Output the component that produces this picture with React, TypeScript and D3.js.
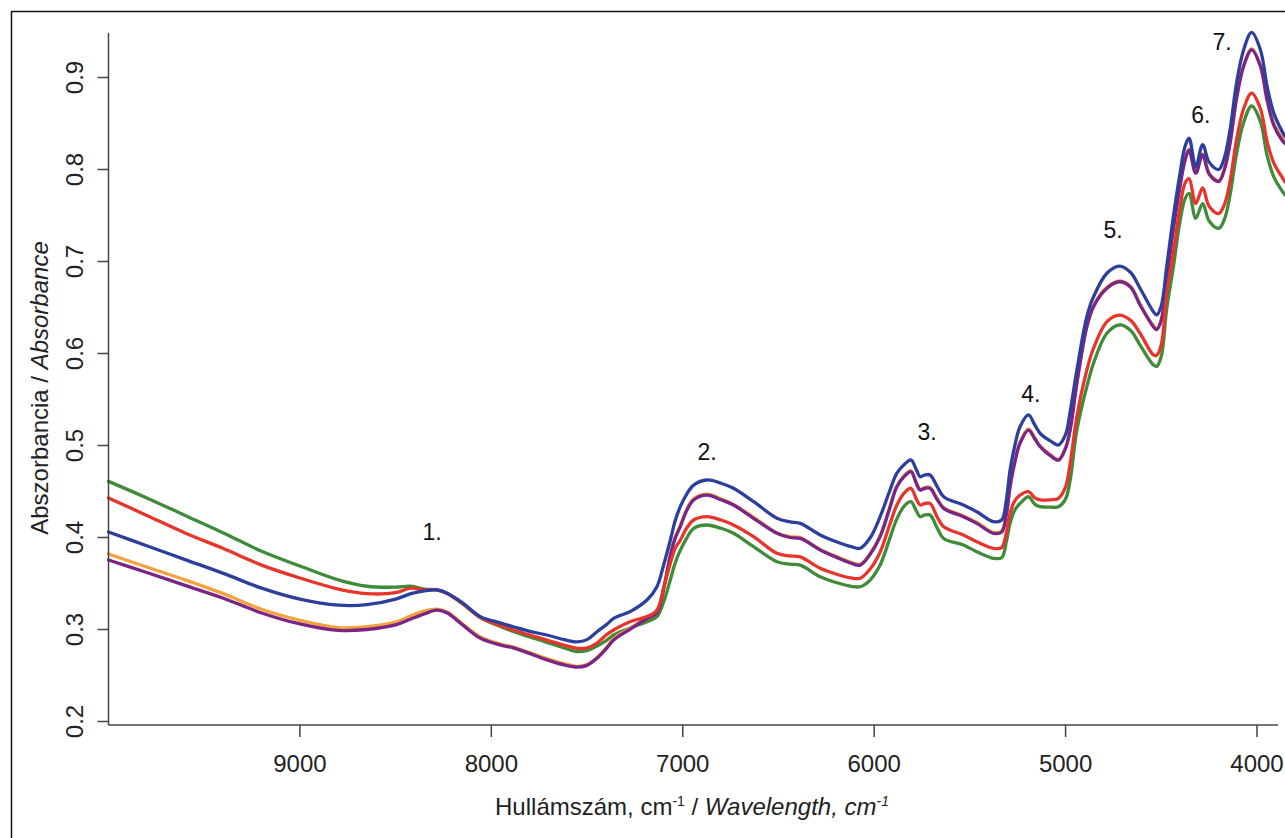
import React from "react";
import * as d3 from "d3";

const wavenumbers = [10000, 9800, 9600, 9400, 9200, 9000, 8800, 8650, 8500, 8420, 8350, 8284, 8230, 8150, 8057, 7950, 7885, 7800, 7710, 7620, 7553, 7500, 7448, 7400, 7361, 7270, 7187, 7135, 7100, 7065, 7040, 7013, 6980, 6943, 6874, 6800, 6735, 6630, 6508, 6440, 6386, 6282, 6180, 6120, 6073, 6020, 5969, 5920, 5882, 5840, 5808, 5780, 5760, 5735, 5708, 5670, 5637, 5534, 5464, 5377, 5334, 5310, 5290, 5265, 5238, 5194, 5160, 5133, 5080, 5037, 5000, 4976, 4941, 4889, 4854, 4784, 4719, 4660, 4611, 4541, 4524, 4500, 4472, 4437, 4402, 4376, 4355, 4320, 4284, 4250, 4200, 4170, 4141, 4107, 4070, 4028, 3982, 3947, 3912, 3870, 3852];

const greenSeries = [0.461, 0.443, 0.424, 0.405, 0.385, 0.369, 0.354, 0.347, 0.346, 0.347, 0.344, 0.343, 0.339, 0.328, 0.313, 0.303, 0.298, 0.292, 0.286, 0.280, 0.276, 0.277, 0.282, 0.288, 0.294, 0.302, 0.3085, 0.314, 0.330, 0.354, 0.372, 0.386, 0.399, 0.410, 0.4136, 0.410, 0.4046, 0.390, 0.3737, 0.371, 0.370, 0.3574, 0.350, 0.347, 0.3465, 0.354, 0.370, 0.398, 0.420, 0.435, 0.439, 0.429, 0.4226, 0.4245, 0.4245, 0.410, 0.399, 0.3918, 0.3845, 0.3774, 0.378, 0.395, 0.4154, 0.430, 0.437, 0.4443, 0.436, 0.4335, 0.433, 0.4335, 0.442, 0.4625, 0.5168, 0.5639, 0.5894, 0.622, 0.631, 0.625, 0.6092, 0.5875, 0.586, 0.597, 0.648, 0.694, 0.744, 0.768, 0.774, 0.747, 0.763, 0.744, 0.736, 0.746, 0.772, 0.817, 0.851, 0.869, 0.852, 0.815, 0.792, 0.777, 0.772];

const redSeries = [0.443, 0.424, 0.405, 0.388, 0.370, 0.356, 0.344, 0.339, 0.340, 0.345, 0.343, 0.343, 0.339, 0.328, 0.313, 0.304, 0.2995, 0.294, 0.2885, 0.283, 0.2796, 0.280, 0.2853, 0.294, 0.2995, 0.309, 0.314, 0.321, 0.345, 0.372, 0.388, 0.397, 0.410, 0.419, 0.4226, 0.419, 0.4136, 0.4009, 0.3828, 0.380, 0.379, 0.3665, 0.359, 0.356, 0.3557, 0.366, 0.384, 0.413, 0.435, 0.449, 0.4535, 0.442, 0.4353, 0.437, 0.437, 0.422, 0.4117, 0.4027, 0.3954, 0.3883, 0.389, 0.405, 0.4263, 0.440, 0.446, 0.4498, 0.443, 0.4408, 0.441, 0.4426, 0.455, 0.4806, 0.5313, 0.582, 0.6057, 0.6346, 0.6418, 0.636, 0.622, 0.5984, 0.598, 0.610, 0.665, 0.709, 0.7596, 0.785, 0.790, 0.763, 0.780, 0.760, 0.752, 0.762, 0.787, 0.832, 0.866, 0.883, 0.866, 0.830, 0.807, 0.792, 0.786];

const blueSeries = [0.406, 0.391, 0.376, 0.361, 0.345, 0.333, 0.3265, 0.327, 0.333, 0.339, 0.342, 0.343, 0.3395, 0.329, 0.314, 0.307, 0.303, 0.298, 0.294, 0.289, 0.2865, 0.289, 0.2976, 0.305, 0.312, 0.320, 0.332, 0.3465, 0.370, 0.397, 0.418, 0.4335, 0.447, 0.457, 0.4625, 0.459, 0.4535, 0.439, 0.421, 0.417, 0.4154, 0.4027, 0.394, 0.390, 0.3883, 0.400, 0.4226, 0.450, 0.4698, 0.480, 0.4843, 0.474, 0.466, 0.468, 0.468, 0.455, 0.4443, 0.4353, 0.428, 0.4172, 0.419, 0.440, 0.4734, 0.500, 0.5204, 0.5332, 0.522, 0.5133, 0.505, 0.5005, 0.512, 0.537, 0.582, 0.640, 0.6617, 0.6872, 0.695, 0.688, 0.6709, 0.6455, 0.642, 0.652, 0.694, 0.7487, 0.796, 0.825, 0.834, 0.803, 0.827, 0.808, 0.800, 0.813, 0.843, 0.8937, 0.930, 0.949, 0.930, 0.890, 0.861, 0.842, 0.8357];

const orangeSeries = [0.382, 0.368, 0.354, 0.339, 0.322, 0.310, 0.302, 0.303, 0.308, 0.315, 0.320, 0.322, 0.319, 0.306, 0.292, 0.284, 0.281, 0.275, 0.2685, 0.263, 0.260, 0.262, 0.2695, 0.280, 0.290, 0.302, 0.313, 0.319, 0.345, 0.381, 0.400, 0.413, 0.430, 0.442, 0.447, 0.442, 0.436, 0.422, 0.405, 0.401, 0.400, 0.387, 0.378, 0.373, 0.371, 0.383, 0.402, 0.432, 0.456, 0.468, 0.4725, 0.460, 0.4525, 0.4545, 0.4545, 0.442, 0.4325, 0.4235, 0.4165, 0.4055, 0.407, 0.425, 0.456, 0.483, 0.5035, 0.518, 0.508, 0.4995, 0.490, 0.485, 0.498, 0.518, 0.5685, 0.630, 0.652, 0.672, 0.679, 0.673, 0.654, 0.630, 0.627, 0.637, 0.681, 0.736, 0.783, 0.811, 0.822, 0.797, 0.817, 0.796, 0.788, 0.801, 0.829, 0.878, 0.913, 0.931, 0.913, 0.877, 0.850, 0.835, 0.830];

const purpleSeries = [0.3755, 0.362, 0.348, 0.334, 0.318, 0.306, 0.299, 0.300, 0.305, 0.3115, 0.317, 0.321, 0.318, 0.305, 0.2905, 0.283, 0.280, 0.274, 0.267, 0.2615, 0.259, 0.261, 0.2687, 0.279, 0.2886, 0.301, 0.312, 0.318, 0.344, 0.380, 0.399, 0.4118, 0.429, 0.4408, 0.446, 0.441, 0.4353, 0.4209, 0.4046, 0.400, 0.399, 0.3864, 0.377, 0.372, 0.370, 0.382, 0.401, 0.431, 0.455, 0.467, 0.4716, 0.459, 0.4516, 0.4535, 0.4535, 0.441, 0.4317, 0.4226, 0.4154, 0.4046, 0.406, 0.424, 0.455, 0.482, 0.5024, 0.5168, 0.507, 0.4987, 0.489, 0.4842, 0.497, 0.517, 0.5676, 0.629, 0.6509, 0.6709, 0.678, 0.672, 0.6527, 0.629, 0.626, 0.636, 0.680, 0.735, 0.782, 0.810, 0.821, 0.796, 0.816, 0.795, 0.787, 0.800, 0.828, 0.877, 0.912, 0.930, 0.912, 0.875, 0.848, 0.832, 0.828];

const yTicks = [0.2, 0.3, 0.4, 0.5, 0.6, 0.7, 0.8, 0.9];
const xTicks = [9000, 8000, 7000, 6000, 5000, 4000];

const peakLabels = ["1.", "2.", "3.", "4.", "5.", "6.", "7."];
const peakWavenumbers = [8310, 6873, 5724, 5181, 4752, 4293, 4183];
const peakLabelValues = [0.397, 0.4842, 0.506, 0.5473, 0.7255, 0.8505, 0.930];

const series = [
  { name: "green", values: greenSeries, color: "#3f8c38" },
  { name: "orange", values: orangeSeries, color: "#f3a23c" },
  { name: "purple", values: purpleSeries, color: "#7a2488" },
  { name: "red", values: redSeries, color: "#e8352c" },
  { name: "blue", values: blueSeries, color: "#2c3f9d" },
];

const W = 1285;
const H = 838;
const FONT = "'Liberation Sans', Arial, Helvetica, sans-serif";

export default function App() {
  const x = d3.scaleLinear().domain([10000, 4000]).range([108.5, 1257]);
  const y = d3.scaleLinear().domain([0.2, 0.9]).range([721.5, 77.5]);
  const axisBottomY = 725;
  const axisLeftX = 108.5;

  const line = d3
    .line<number>()
    .x((_, i) => x(wavenumbers[i]))
    .y((d) => y(d))
    .curve(d3.curveCatmullRom.alpha(0.5));

  return (
    <svg
      width={W}
      height={H}
      style={{ position: "absolute", left: 0, top: 0, background: "#fff" }}
    >
      <rect x={11.5} y={11.5} width={1400} height={900} fill="none" stroke="#111" strokeWidth={1.5} />
      {series.map((s) => (
        <path
          key={s.name}
          d={line(s.values) || ""}
          fill="none"
          stroke={s.color}
          strokeWidth={3.3}
          strokeLinejoin="round"
          strokeLinecap="round"
        />
      ))}
      {/* Y axis */}
      <line x1={axisLeftX} x2={axisLeftX} y1={33} y2={axisBottomY} stroke="#444" strokeWidth={1.5} />
      {yTicks.map((t) => (
        <g key={t}>
          <line x1={axisLeftX - 11} x2={axisLeftX} y1={y(t)} y2={y(t)} stroke="#444" strokeWidth={1.5} />
          <text
            transform={`translate(83,${y(t)}) rotate(-90)`}
            textAnchor="middle"
            fontFamily={FONT}
            fontSize={24}
            fill="#222"
          >
            {t.toFixed(1)}
          </text>
        </g>
      ))}
      {/* X axis */}
      <line x1={axisLeftX} x2={1278} y1={axisBottomY} y2={axisBottomY} stroke="#444" strokeWidth={1.5} />
      {xTicks.map((t) => (
        <g key={t}>
          <line x1={x(t)} x2={x(t)} y1={axisBottomY} y2={axisBottomY + 12} stroke="#444" strokeWidth={1.5} />
          <text x={x(t)} y={772} textAnchor="middle" fontFamily={FONT} fontSize={24} fill="#222">
            {t}
          </text>
        </g>
      ))}
      {/* Axis titles */}
      <text x={692} y={815} textAnchor="middle" fontFamily={FONT} fontSize={24} fill="#222">
        Hullámszám, cm
        <tspan fontSize={14} dy={-9}>-1</tspan>
        <tspan dy={9}> / </tspan>
        <tspan fontStyle="italic">Wavelength, cm</tspan>
        <tspan fontStyle="italic" fontSize={14} dy={-9}>-1</tspan>
      </text>
      <text
        transform={`translate(48,388) rotate(-90)`}
        textAnchor="middle"
        fontFamily={FONT}
        fontSize={24}
        fill="#222"
      >
        Abszorbancia / <tspan fontStyle="italic">Absorbance</tspan>
      </text>
      {/* Peak labels */}
      {peakLabels.map((lab, i) => (
        <text
          key={lab}
          x={x(peakWavenumbers[i])}
          y={y(peakLabelValues[i])}
          textAnchor="middle"
          fontFamily={FONT}
          fontSize={23}
          fill="#111"
        >
          {lab}
        </text>
      ))}
    </svg>
  );
}
